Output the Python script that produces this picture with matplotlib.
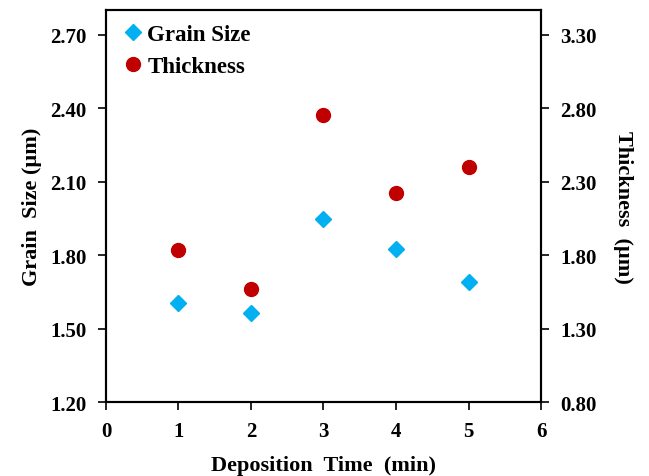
import matplotlib
matplotlib.use("Agg")
import matplotlib.pyplot as plt

plt.rcParams['font.family'] = ['Liberation Serif', 'DejaVu Serif']
plt.rcParams['font.weight'] = 'bold'

# deposition time (min)
time = [1, 2, 3, 4, 5]
# grain size (um), left axis
grain = [1.603, 1.563, 1.949, 1.826, 1.689]
# thickness (um), right axis
thick = [1.837, 1.568, 2.750, 2.220, 2.396]

left_ticks = [1.20, 1.50, 1.80, 2.10, 2.40, 2.70]
right_ticks = [0.80, 1.30, 1.80, 2.30, 2.80, 3.30]

fig = plt.figure(figsize=(6.49, 4.77), dpi=100)
ax = fig.add_axes([0.1633, 0.1551, 0.6703, 0.8218])
ax2 = ax.twinx()

g, = ax.plot(time, grain, 'D', color='#00B0F0', markersize=8.5, linestyle='none')
t, = ax2.plot(time, thick, 'o', color='#C00000', markersize=10, linestyle='none')

ax.set_xlim(0, 6)
ax.set_ylim(1.20, 2.80)
ax2.set_ylim(0.80, 0.80 + 1.6 * 5 / 3)
ax.set_xticks(range(7))
ax.set_yticks(left_ticks)
ax.set_yticklabels(['%.2f' % v for v in left_ticks])
ax2.set_yticks(right_ticks)
ax2.set_yticklabels(['%.2f' % v for v in right_ticks])

for a in (ax, ax2):
    a.tick_params(labelsize=15, width=1.2, length=6, direction='out')
    for s in a.spines.values():
        s.set_linewidth(1.5)
ax.tick_params(axis='x', pad=8)
ax.tick_params(axis='y', pad=8)
ax2.tick_params(axis='y', pad=8)

ax.set_xlabel('Deposition  Time  (min)', fontsize=16, fontweight='bold', labelpad=10)
ax.set_ylabel('Grain  Size (µm)', fontsize=16, fontweight='bold', labelpad=6)
ax2.set_ylabel('Thickness  (µm)', fontsize=16, fontweight='bold', rotation=270, labelpad=26)

ax.legend([g, t], ['Grain Size', 'Thickness'], loc='upper left', frameon=False,
          prop={'size': 16.5, 'weight': 'bold'}, handletextpad=0.0, handlelength=1.2,
          borderaxespad=0.2, labelspacing=0.5)

plt.savefig('out.png', dpi=100)
